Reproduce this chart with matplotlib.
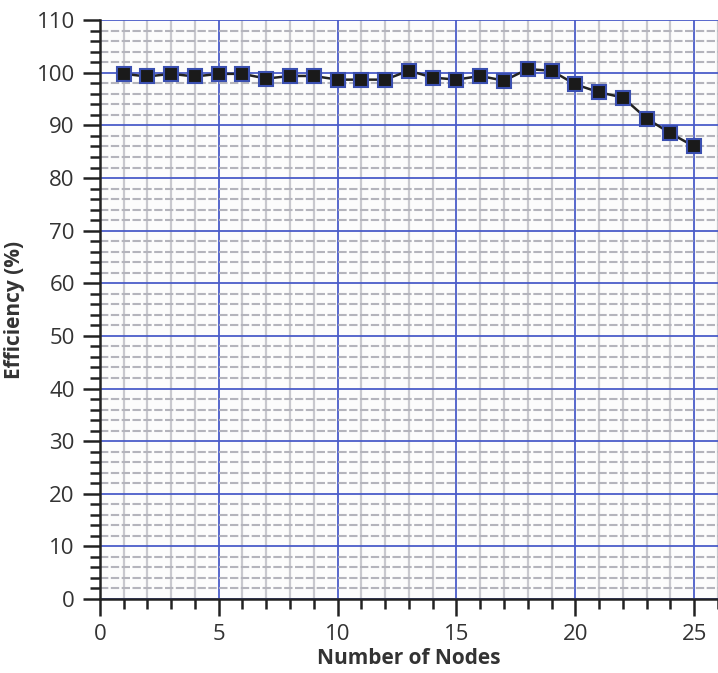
import matplotlib
matplotlib.use("Agg")
import matplotlib.pyplot as plt
from matplotlib.ticker import MultipleLocator

plt.rcParams['font.family'] = ['Open Sans', 'DejaVu Sans']

nodes = list(range(1, 26))
efficiency = [99.8, 99.3, 99.8, 99.3, 99.8, 99.8, 98.9, 99.4, 99.4, 98.7,
              98.7, 98.7, 100.4, 99.1, 98.7, 99.4, 98.5, 100.7, 100.4, 97.8,
              96.3, 95.3, 91.3, 88.5, 86.0]
x_label = "Number of Nodes"
y_label = "Efficiency (%)"

fig = plt.figure(figsize=(7.18, 6.73), dpi=100)
ax = fig.add_axes([0.139, 0.110, 0.861, 0.860])
ax.set_facecolor('#fcfcfc')

ax.set_xlim(0, 26)
ax.set_ylim(0, 110)
ax.xaxis.set_major_locator(MultipleLocator(5))
ax.xaxis.set_minor_locator(MultipleLocator(1))
ax.yaxis.set_major_locator(MultipleLocator(10))
ax.yaxis.set_minor_locator(MultipleLocator(2))

ax.grid(which='major', color='#4a5cc8', linewidth=1.3, zorder=1)
ax.xaxis.grid(which='minor', color='#c8c8ce', linewidth=1.6, zorder=0)
ax.yaxis.grid(which='minor', color='#b4b4bc', linewidth=1.5, linestyle=(0, (4, 1.2)), zorder=0)

for s in ['top', 'right']:
    ax.spines[s].set_visible(False)
for s in ['left', 'bottom']:
    ax.spines[s].set_linewidth(1.8)
    ax.spines[s].set_color('#222222')

ax.tick_params(which='major', direction='out', length=12, width=1.8, color='#222222',
               labelsize=16, labelcolor='#333333', pad=6)
ax.tick_params(which='minor', direction='out', length=7, width=1.8, color='#222222')

ax.plot(nodes, efficiency, color='#222222', linewidth=1.8, marker='s', markersize=10,
        markerfacecolor='#1a1a1a', markeredgecolor='#3a4fb0', markeredgewidth=1.5,
        zorder=5, clip_on=False)

ax.set_xlabel(x_label, fontsize=15, fontweight='bold', color='#333333', labelpad=2)
ax.set_ylabel(y_label, fontsize=15, fontweight='bold', color='#333333', labelpad=8)

fig.savefig('out.png', dpi=100)
